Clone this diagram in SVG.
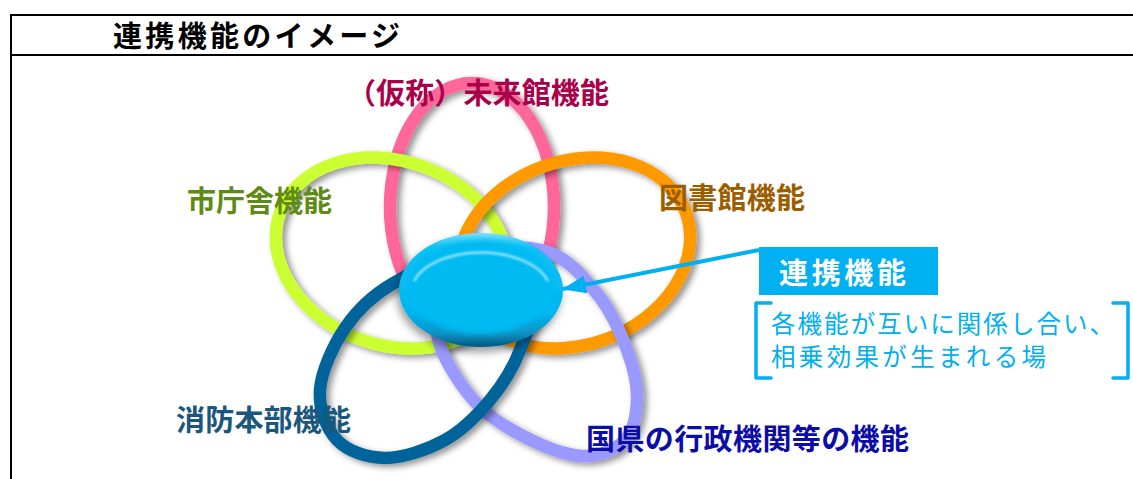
<svg xmlns="http://www.w3.org/2000/svg" width="1133" height="479" viewBox="0 0 1133 479">
<defs>
<style>
.frame{stroke:#000;stroke-width:2;fill:none}
.ring{fill:none;stroke-width:12.5}
.lbl{font-family:"Noto Sans CJK JP","Noto Sans",sans-serif;font-weight:bold;font-size:29px}
.title{font-family:"Noto Sans CJK JP","Noto Sans",sans-serif;font-weight:bold;font-size:29px;fill:#000}
.note{font-family:"Noto Sans CJK JP","Noto Sans",sans-serif;font-size:24.5px;fill:#00B0F0}
.brk{fill:none;stroke:#00B0F0;stroke-width:3.5;stroke-linejoin:round;stroke-linecap:round}
</style>
<filter id="sh" x="-20%" y="-20%" width="140%" height="140%">
<feDropShadow dx="4" dy="3" stdDeviation="3" flood-color="#000" flood-opacity="0.42"/>
</filter>
<filter id="sh2" x="-20%" y="-20%" width="140%" height="150%">
<feDropShadow dx="-2" dy="5" stdDeviation="4" flood-color="#000" flood-opacity="0.4"/>
</filter>
<filter id="soft" x="-10%" y="-10%" width="120%" height="120%">
<feGaussianBlur stdDeviation="2.5"/>
</filter>
<filter id="soft1" x="-10%" y="-30%" width="120%" height="160%">
<feGaussianBlur stdDeviation="1.2"/>
</filter>
<linearGradient id="cg" x1="0" y1="0" x2="0" y2="1">
<stop offset="0" stop-color="#7adfff"/>
<stop offset="0.12" stop-color="#12c2f6"/>
<stop offset="0.7" stop-color="#00b6ee"/>
<stop offset="0.88" stop-color="#0a92c6"/>
<stop offset="1" stop-color="#04587e"/>
</linearGradient>
<marker id="ah" markerUnits="userSpaceOnUse" markerWidth="24" markerHeight="18" viewBox="0 0 24 18" refX="23" refY="9" orient="auto">
<path d="M0,0 L24,9 L0,18 z" fill="#00B0F0"/>
</marker>
</defs>
<rect width="1133" height="479" fill="#fff"/>
<g id="frame">
<line class="frame" x1="11" y1="15" x2="1133" y2="15"/>
<line class="frame" x1="11" y1="55" x2="1133" y2="55"/>
<line class="frame" x1="11" y1="14" x2="11" y2="479"/>
<text class="title" x="113" y="47" textLength="287" lengthAdjust="spacing">連携機能のイメージ</text>
</g>
<g id="rings">
<g id="ring-mirai" filter="url(#sh)"><ellipse class="ring" cx="472" cy="207" rx="82" ry="124" stroke="#FF6699"/></g>
<g id="ring-shichosha" filter="url(#sh)"><ellipse class="ring" cx="392" cy="253" rx="119" ry="92" transform="rotate(20 392 253)" stroke="#CCFF33"/></g>
<g id="ring-tosho" filter="url(#sh)"><ellipse class="ring" cx="574" cy="253" rx="119" ry="92" transform="rotate(-20 574 253)" stroke="#FF9900"/></g>
<g id="ring-kuniken" filter="url(#sh)"><path class="ring" stroke="#9999FF" d="M468,252 C486,245.7 526.3,244.8 548,252 C569.7,259.2 584.8,278.7 598,295 C611.2,311.3 620.5,332.8 627,350 C633.5,367.2 637.3,383 637,398 C636.7,413 633.7,430.3 625,440 C616.3,449.7 600.3,455.8 585,456 C569.7,456.2 550.8,449.5 533,441 C515.2,432.5 493.5,421 478,405 C462.5,389 446.3,364.2 440,345 C433.7,325.8 435.3,305.5 440,290 C444.7,274.5 450,258.3 468,252 Z"/></g>
<g id="ring-shobo" filter="url(#sh)"><path class="ring" stroke="#03649A" d="M465,258 C442,256.2 412,272.3 392,284 C372,295.7 357,310.3 345,328 C333,345.7 321.3,371.3 320,390 C318.7,408.7 326.2,428.7 337,440 C347.8,451.3 367,458 385,458 C403,458 427.5,449.7 445,440 C462.5,430.3 477.5,415 490,400 C502.5,385 513.3,367.5 520,350 C526.7,332.5 539.2,310.3 530,295 C520.8,279.7 488,259.8 465,258 Z"/></g>
</g>
<g id="center">
<ellipse cx="481" cy="290" rx="82" ry="57" fill="url(#cg)" filter="url(#sh2)"/>
<ellipse cx="481" cy="287" rx="74" ry="47" fill="#00BAF2" filter="url(#soft)"/>
<path d="M414,281 A70,40 0 0 1 548,281" fill="none" stroke="#d8f6ff" stroke-opacity="0.7" stroke-width="2.5" filter="url(#soft1)"/>
</g>
<g id="connectors">
<line x1="759" y1="250" x2="563" y2="289" stroke="#00B0F0" stroke-width="4" marker-end="url(#ah)"/>
</g>
<g id="labels">
<text class="lbl" x="347" y="104" fill="#A8004A" textLength="262" lengthAdjust="spacing">（仮称）未来館機能</text>
<text class="lbl" x="187" y="212" fill="#5F8A14" textLength="145" lengthAdjust="spacing">市庁舎機能</text>
<text class="lbl" x="659" y="209" fill="#9A5E00" textLength="146" lengthAdjust="spacing">図書館機能</text>
<text class="lbl" x="176" y="431" fill="#1B577C" textLength="175" lengthAdjust="spacing">消防本部機能</text>
<text class="lbl" x="586" y="450" fill="#0C0CA6" textLength="323" lengthAdjust="spacing">国県の行政機関等の機能</text>
</g>
<g id="callout">
<rect x="759" y="247" width="179" height="48" fill="#00B0F0"/>
<text class="lbl" x="779" y="284" fill="#fff" font-size="30" textLength="127" lengthAdjust="spacing">連携機能</text>
<path class="brk" d="M771,303 L756,303 L756,378 L771,378"/>
<path class="brk" d="M1113,303 L1128,303 L1128,378 L1113,378"/>
<text class="note" x="771" y="333" textLength="343" lengthAdjust="spacing">各機能が互いに関係し合い、</text>
<text class="note" x="771" y="366" textLength="275" lengthAdjust="spacing">相乗効果が生まれる場</text>
</g>
</svg>
